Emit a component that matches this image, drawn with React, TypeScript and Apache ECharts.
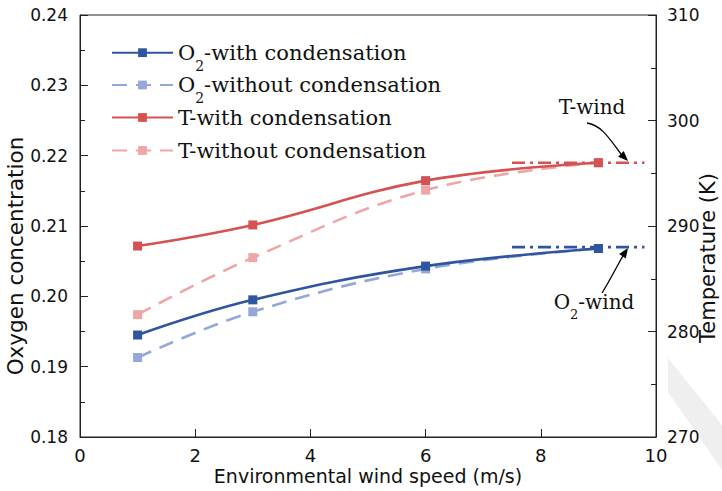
import React, { useEffect, useRef } from "react";
import * as echarts from "echarts";

// ---- data ----
const windSpeed = [1, 3, 6, 9];
const o2With = [0.1945, 0.1995, 0.2043, 0.2068];
const o2Without = [0.1913, 0.1978, 0.2039, 0.2068];
const tWith = [288.1, 290.1, 294.3, 296.0];
const tWithout = [281.6, 287.0, 293.4, 296.0];
const windSpan = [7.5, 9.8];
const o2WindValue = 0.207;
const tWindValue = 296.0;
const seriesNames = [
  "O2-with condensation",
  "O2-without condensation",
  "T-with condensation",
  "T-without condensation",
];

const BLUE = "#2f54a0";
const BLUE_LIGHT = "#93a8d6";
const RED = "#d65252";
const RED_LIGHT = "#efa6a6";

function pairs(xs: number[], ys: number[]) {
  return xs.map((x, i) => [x, ys[i]]);
}

function arrowHead(tip: number[], from: number[], len = 10, half = 4) {
  const dx = tip[0] - from[0];
  const dy = tip[1] - from[1];
  const d = Math.hypot(dx, dy) || 1;
  const ux = dx / d, uy = dy / d;
  const bx = tip[0] - ux * len, by = tip[1] - uy * len;
  return [
    [tip[0], tip[1]],
    [bx - uy * half, by + ux * half],
    [bx + uy * half, by - ux * half],
  ];
}

export default function App() {
  const ref = useRef<HTMLDivElement>(null);
  useEffect(() => {
    if (!ref.current) return;
    const chart = echarts.init(ref.current, undefined, { renderer: "svg" });
    const sans = "DejaVu Sans";
    const serif = "DejaVu Serif";
    const richLegend = {
      m: { fontFamily: serif, fontSize: 21, lineHeight: 24, color: "#111", verticalAlign: "middle" },
      s: { fontFamily: serif, fontSize: 14, lineHeight: 14, color: "#111", padding: [26, 0, 0, 0], verticalAlign: "middle" },
    };
    const legendFmt = (name: string) => {
      if (name.startsWith("O2")) return "{m|O}{s|2}{m|" + name.slice(2) + "}";
      return "{m|" + name + "}";
    };
    // icon centre rows (px) for the four legend entries
    const legendRows = [52.7, 85, 119, 152];
    const legends = seriesNames.map((name, i) => {
      const tall = name.startsWith("O2");
      return {
        orient: "vertical",
        left: 111,
        top: legendRows[i] - (tall ? 20 : 12),
        padding: 0,
        itemWidth: 61,
        itemHeight: 11,
        data: [name],
        formatter: legendFmt,
        textStyle: { fontFamily: serif, fontSize: 21, color: "#111", rich: richLegend },
      };
    });
    const lineBase = (name: string, color: string, data: number[][], yIdx: number, dashed: boolean) => ({
      name,
      type: "line",
      yAxisIndex: yIdx,
      data,
      smooth: 0.4,
      symbol: "rect",
      symbolSize: 9,
      itemStyle: { color },
      lineStyle: { color, width: 2.6, type: dashed ? [15, 9] : "solid" },
      z: dashed ? 2 : 3,
    });
    const tip1 = [628, 161], from1 = [621, 154];
    const tip2 = [628, 248], from2 = [624, 254];
    chart.setOption({
      animation: false,
      grid: { left: 80, right: 66, top: 15, bottom: 54, show: true, borderColor: "#222", borderWidth: 1 },
      legend: legends,
      xAxis: {
        type: "value",
        min: 0,
        max: 10,
        interval: 2,
        name: "Environmental wind speed (m/s)",
        nameLocation: "middle",
        nameGap: 29,
        nameMoveOverlap: false,
        nameTextStyle: { fontFamily: sans, fontSize: 19, color: "#111" },
        axisLine: { lineStyle: { color: "#222", width: 1 } },
        axisTick: { inside: true, length: 8, lineStyle: { color: "#222" } },
        axisLabel: { fontFamily: sans, fontSize: 18, color: "#111", margin: 9 },
        splitLine: { show: false },
      },
      yAxis: [
        {
          type: "value",
          min: 0.18,
          max: 0.24,
          interval: 0.01,
          position: "left",
          axisLine: { show: true, lineStyle: { color: "#222", width: 1 } },
          axisTick: { show: true, inside: true, length: 8, lineStyle: { color: "#222" } },
          minorTick: { show: true, splitNumber: 2, length: 5, lineStyle: { color: "#222" } },
          axisLabel: { fontFamily: sans, fontSize: 17, color: "#111", margin: 12, formatter: (v: number) => v.toFixed(2) },
          splitLine: { show: false },
        },
        {
          type: "value",
          min: 270,
          max: 310,
          interval: 10,
          position: "right",
          axisLine: { show: true, lineStyle: { color: "#222", width: 1 } },
          axisTick: { show: true, inside: true, length: 8, lineStyle: { color: "#222" } },
          minorTick: { show: true, splitNumber: 2, length: 5, lineStyle: { color: "#222" } },
          axisLabel: { fontFamily: sans, fontSize: 17, color: "#111", margin: 11 },
          splitLine: { show: false },
        },
      ],
      series: [
        lineBase(seriesNames[0], BLUE, pairs(windSpeed, o2With), 0, false),
        lineBase(seriesNames[1], BLUE_LIGHT, pairs(windSpeed, o2Without), 0, true),
        lineBase(seriesNames[2], RED, pairs(windSpeed, tWith), 1, false),
        lineBase(seriesNames[3], RED_LIGHT, pairs(windSpeed, tWithout), 1, true),
        {
          name: "O2-wind",
          type: "line",
          yAxisIndex: 0,
          data: windSpan.map((x) => [x, o2WindValue]),
          symbol: "none",
          lineStyle: { color: BLUE, width: 2.6, type: [13, 5, 3, 5] },
          z: 4,
        },
        {
          name: "T-wind",
          type: "line",
          yAxisIndex: 1,
          data: windSpan.map((x) => [x, tWindValue]),
          symbol: "none",
          lineStyle: { color: RED, width: 2.6, type: [13, 5, 3, 5] },
          z: 4,
        },
      ],
      graphic: [
        {
          type: "polygon",
          z: -10,
          shape: { points: [[668, 358], [722, 425], [722, 470], [668, 392]] },
          style: { fill: "#efefef" },
          silent: true,
        },
        {
          type: "text",
          x: 15,
          y: 256,
          rotation: Math.PI / 2,
          style: { text: "Oxygen concentration", fontFamily: sans, fontSize: 21.5, fill: "#111", align: "center", verticalAlign: "middle" },
        },
        {
          type: "text",
          x: 708,
          y: 258,
          rotation: Math.PI / 2,
          style: { text: "Temperature (K)", fontFamily: sans, fontSize: 21, fill: "#111", align: "center", verticalAlign: "middle" },
        },
        {
          type: "text",
          x: 592,
          y: 107,
          style: { text: "T-wind", fontFamily: serif, fontSize: 20, fill: "#111", align: "center", verticalAlign: "middle" },
        },
        {
          type: "text",
          x: 594,
          y: 302,
          style: {
            text: "{m|O}{s|2}{m|-wind}",
            align: "center",
            verticalAlign: "middle",
            rich: {
              m: { fontFamily: serif, fontSize: 20, lineHeight: 24, fill: "#111", color: "#111", verticalAlign: "middle" },
              s: { fontFamily: serif, fontSize: 13, lineHeight: 13, fill: "#111", color: "#111", padding: [25, 0, 0, 0], verticalAlign: "middle" },
            },
          },
        },
        {
          type: "bezierCurve",
          shape: { x1: 587, y1: 123, cpx1: 602, cpy1: 125, cpx2: 611, cpy2: 141, x2: from1[0], y2: from1[1] },
          style: { stroke: "#000", lineWidth: 1.3, fill: "none" },
        },
        { type: "polygon", shape: { points: arrowHead(tip1, from1) }, style: { fill: "#000" } },
        {
          type: "bezierCurve",
          shape: { x1: 602, y1: 293, cpx1: 609, cpy1: 282, cpx2: 616, cpy2: 268, x2: from2[0], y2: from2[1] },
          style: { stroke: "#000", lineWidth: 1.3, fill: "none" },
        },
        { type: "polygon", shape: { points: arrowHead(tip2, from2) }, style: { fill: "#000" } },
      ],
    });
    return () => chart.dispose();
  }, []);
  return (
    <div
      ref={ref}
      style={{ position: "fixed", left: 0, top: 0, width: 722, height: 491, background: "#fff" }}
    />
  );
}
